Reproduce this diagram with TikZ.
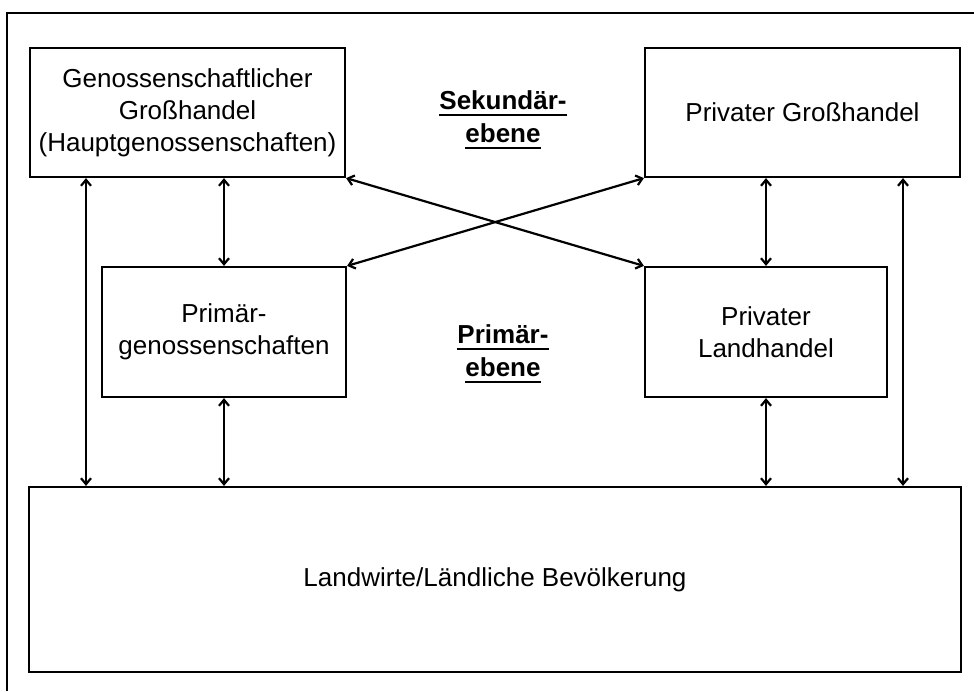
\documentclass[tikz,border=0pt]{standalone}
\usepackage{fontspec}
\setmainfont{Liberation Sans}
\usetikzlibrary{arrows.meta}

% bold text with a thick underline
\newcommand\thickul[1]{\setbox0\hbox{#1}\rlap{\rule[-6pt]{\wd0}{2pt}}\box0}

\begin{document}
\begin{tikzpicture}[x=1pt,y=-1pt,
  box/.style={draw,line width=2.2pt,inner sep=0pt,align=center,
    font=\fontsize{26}{32}\selectfont},
  link/.style={line width=2.2pt,{Straight Barb[length=6pt,width=10pt]}-{Straight Barb[length=6pt,width=10pt]}},
  level/.style={align=center,font=\fontsize{26}{33}\selectfont\bfseries}]
\useasboundingbox (0,0) rectangle (974,691);

% frame
\draw[line width=2.2pt] (7,691) -- (7,13) -- (974,13);

% boxes
\node[box,minimum width=315pt,minimum height=129pt] (gg) at (187.5,112.5)
  {Genossenschaftlicher\\Großhandel\\(Hauptgenossenschaften)};
\node[box,minimum width=315pt,minimum height=129pt] (pg) at (802.5,112.5)
  {Privater Großhandel};
\node[box,minimum width=244pt,minimum height=130pt] (pk) at (224,332)
  {Primär-\\genossenschaften};
\node[box,minimum width=242pt,minimum height=130pt] (pl) at (766,332)
  {Privater\\Landhandel};
\node[box,minimum width=932pt,minimum height=185pt] (lw) at (495,579.5)
  {Landwirte/Ländliche Bevölkerung};

% level labels
\node[level] (sek) at (503,120) {\thickul{Sekundär-}\\\thickul{ebene}};
\node[level] (pri) at (503,354) {\thickul{Primär-}\\\thickul{ebene}};

% connectors
\coordinate (xl) at (86,0);
\coordinate (xr) at (903,0);
\draw[link] (gg.south -| xl) -- (lw.north -| xl);
\draw[link] (gg.south -| pk.north) -- (pk.north);
\draw[link] (pk.south) -- (lw.north -| pk.south);
\draw[link] (pg.south -| pl.north) -- (pl.north);
\draw[link] (pl.south) -- (lw.north -| pl.south);
\draw[link] (pg.south -| xr) -- (lw.north -| xr);
\draw[link] (gg.south east) -- (pl.north west);
\draw[link] (pk.north east) -- (pg.south west);
\end{tikzpicture}
\end{document}
